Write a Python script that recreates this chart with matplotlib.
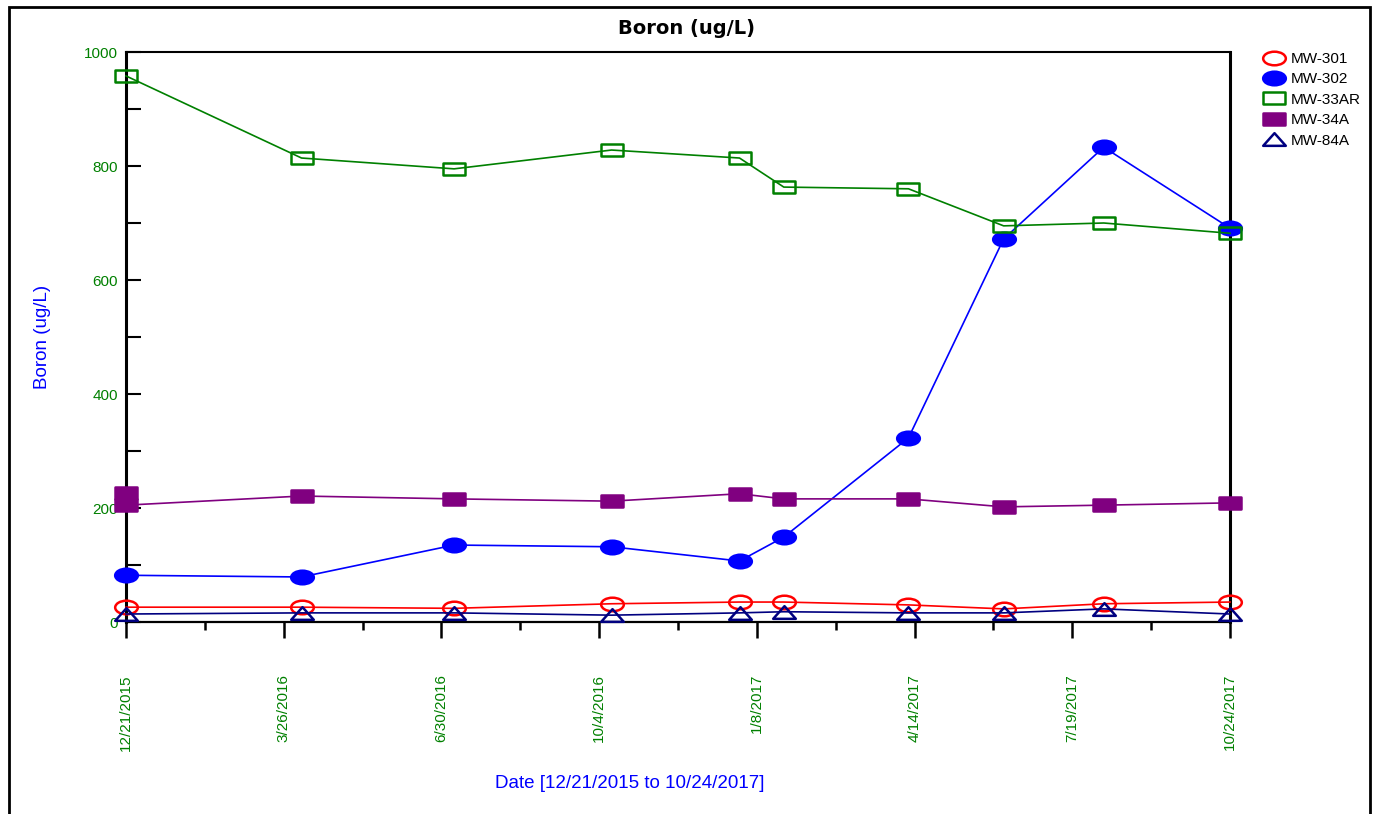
from datetime import datetime

import numpy as np
import matplotlib
matplotlib.use("Agg")
import matplotlib.pyplot as plt
import matplotlib.dates as mdates
from matplotlib.path import Path
from matplotlib.lines import Line2D
from matplotlib.patches import Rectangle

plt.rcParams['font.family'] = ['Liberation Sans', 'DejaVu Sans']

# sample dates
dates = [datetime(2015, 12, 21), datetime(2016, 4, 6), datetime(2016, 7, 8),
         datetime(2016, 10, 12), datetime(2016, 12, 29), datetime(2017, 1, 25),
         datetime(2017, 4, 11), datetime(2017, 6, 8), datetime(2017, 8, 8),
         datetime(2017, 10, 24)]
# MW-34A has two results on the first date
dates_34a = [dates[0]] + dates

mw301 = [26, 26, 24, 32, 35, 35, 30, 23, 32, 35]
mw302 = [82, 79, 135, 132, 107, 149, 323, 672, 833, 691]
mw33ar = [958, 814, 795, 828, 814, 763, 760, 695, 700, 682]
mw34a = [226, 205, 221, 216, 212, 225, 216, 216, 202, 205, 209]
mw84a = [14, 16, 16, 12, 16, 18, 16, 16, 23, 14]

tick_labels = ['12/21/2015', '3/26/2016', '6/30/2016', '10/4/2016',
               '1/8/2017', '4/14/2017', '7/19/2017', '10/24/2017']

# wide markers like the original chart
ell = Path.unit_circle()
ell = Path(ell.vertices * [1, 0.6], ell.codes)
rect = Path([(-1, -0.57), (1, -0.57), (1, 0.57), (-1, 0.57), (-1, -0.57)],
            [Path.MOVETO, Path.LINETO, Path.LINETO, Path.LINETO, Path.CLOSEPOLY])
tri = Path([(-1, -0.56), (1, -0.56), (0, 0.56), (-1, -0.56)],
           [Path.MOVETO, Path.LINETO, Path.LINETO, Path.CLOSEPOLY])

fig = plt.figure(figsize=(13.74, 8.14), dpi=100)
ax = fig.add_axes([126 / 1374, 1 - 622 / 814, 1104 / 1374, 570 / 814])

series = [
    ('MW-301', dates, mw301, '#ff0000', ell, 'none'),
    ('MW-302', dates, mw302, '#0000ff', ell, '#0000ff'),
    ('MW-33AR', dates, mw33ar, '#008000', rect, 'none'),
    ('MW-34A', dates_34a, mw34a, '#800080', rect, '#800080'),
    ('MW-84A', dates, mw84a, '#000080', tri, 'none'),
]

handles = []
for name, xs, ys, col, mk, fc in series:
    ax.plot(xs, ys, color=col, lw=1.2, marker=mk, markersize=16.3,
            markerfacecolor=fc, markeredgecolor=col, markeredgewidth=1.8,
            clip_on=False, zorder=3)
    handles.append(Line2D([], [], linestyle='none', marker=mk, markersize=16.3,
                          markerfacecolor=fc, markeredgecolor=col,
                          markeredgewidth=1.8, label=name))

x0 = mdates.date2num(dates[0])
x1 = mdates.date2num(dates[-1])
ax.set_xlim(x0, x1)
ax.set_ylim(0, 1000)

major = np.linspace(x0, x1, len(tick_labels))
ax.set_xticks(major)
ax.set_xticklabels(tick_labels, rotation=90, color='#008000', fontsize=11)
ax.set_xticks((major[:-1] + major[1:]) / 2, minor=True)
ax.tick_params(axis='x', which='major', direction='out', length=11.5, width=1.8, pad=26)
ax.tick_params(axis='x', which='minor', direction='out', length=6, width=1.8)

ax.set_yticks([0, 200, 400, 600, 800, 1000])
ax.set_yticklabels(['0', '200', '400', '600', '800', '1000'], color='#008000', fontsize=11)
ax.set_yticks(range(100, 1000, 200), minor=True)
ax.tick_params(axis='y', which='both', direction='in', length=10.5, width=1.5, pad=6)

for side, w in [('left', 2.2), ('right', 2.2), ('top', 1.5), ('bottom', 1.6)]:
    ax.spines[side].set_linewidth(w)
    ax.spines[side].set_color('black')

ax.set_xlabel('Date [12/21/2015 to 10/24/2017]', color='#0000ff', fontsize=13.5)
ax.xaxis.set_label_coords(0.4565, -0.268)
ax.set_ylabel('Boron (ug/L)', color='#0000ff', fontsize=13.5)
ax.yaxis.set_label_coords(-0.068, 0.5)

fig.text(0.5, 1 - 29 / 814, 'Boron (ug/L)', ha='center', va='center',
         fontsize=14, fontweight='bold', family='DejaVu Sans')

fig.legend(handles=handles, loc='upper left', bbox_to_anchor=(1261 / 1374, 1 - 52 / 814),
           frameon=False, fontsize=11, handlelength=1.75, handletextpad=0.2,
           labelspacing=0.42, borderpad=0, borderaxespad=0)

fig.patches.append(Rectangle((9 / 1374, -0.05), 1361 / 1374, 1.05 - 7 / 814,
                             transform=fig.transFigure, fill=False,
                             edgecolor='black', lw=2))

fig.savefig('out.png', dpi=100)
